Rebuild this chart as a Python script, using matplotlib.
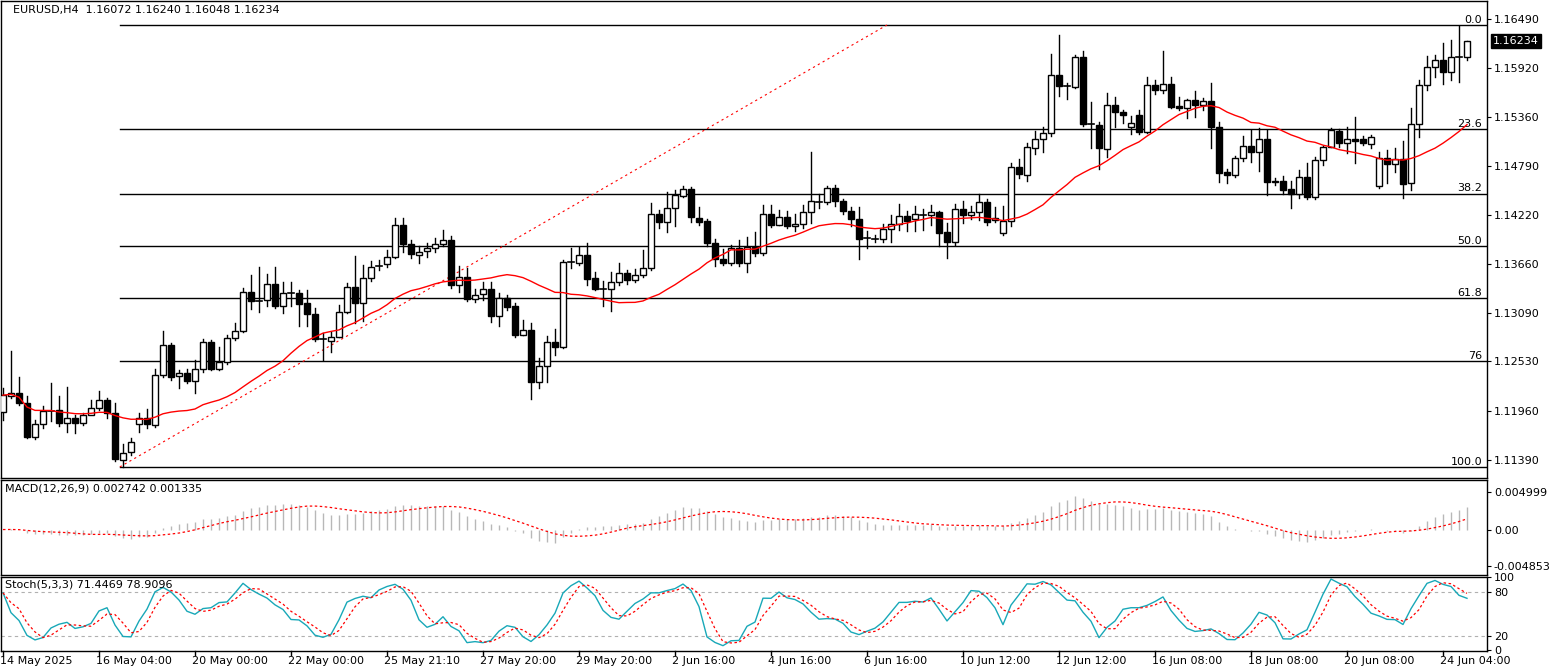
import numpy as np
import matplotlib
matplotlib.use("Agg")
import matplotlib.pyplot as plt

# OHLC in units of 0.0001
opens = [11195,11213,11216,11205,11166,11181,11196,11197,11182,11188,11182,11191,11199,11208,11193,11139,11148,11181,11188,11180,
11237,11272,11236,11240,11230,11244,11275,11244,11252,11280,11288,11333,11323,11324,11343,11317,11332,11332,11321,11308,
11279,11277,11281,11310,11339,11321,11349,11363,11366,11374,11411,11389,11376,11381,11384,11389,11393,11341,11351,11325,
11331,11337,11306,11326,11317,11284,11289,11229,11248,11275,11270,11368,11367,11376,11350,11337,11337,11345,11355,11347,
11353,11361,11423,11414,11430,11444,11452,11419,11415,11390,11371,11367,11384,11367,11385,11378,11423,11411,11420,11410,
11412,11426,11437,11437,11454,11439,11427,11418,11396,11395,11395,11406,11412,11421,11418,11422,11422,11426,11403,11391,
11429,11422,11426,11437,11417,11402,11415,11478,11469,11500,11510,11517,11584,11572,11570,11605,11528,11527,11499,11549,
11541,11524,11538,11518,11573,11567,11574,11548,11546,11555,11550,11554,11524,11472,11469,11488,11502,11495,11510,11460,
11462,11452,11447,11466,11443,11486,11501,11520,11506,11510,11510,11504,11456,11488,11481,11487,11459,11528,11573,11594,
11602,11588,11605,11605]
closes = [11214,11216,11205,11166,11181,11196,11196,11182,11188,11182,11191,11199,11208,11193,11140,11147,11160,11188,11181,11237,
11272,11235,11240,11230,11244,11275,11244,11252,11280,11288,11333,11323,11323,11343,11317,11332,11332,11320,11308,11279,
11279,11281,11310,11339,11321,11350,11362,11363,11374,11411,11389,11377,11380,11384,11389,11393,11341,11351,11325,11330,
11337,11306,11326,11316,11284,11289,11229,11248,11275,11270,11368,11368,11376,11348,11337,11337,11345,11355,11347,11353,
11361,11423,11414,11430,11445,11452,11420,11414,11390,11371,11367,11384,11367,11385,11378,11423,11411,11420,11410,11412,
11426,11439,11437,11454,11439,11427,11418,11395,11396,11395,11406,11412,11421,11415,11423,11422,11426,11402,11391,11429,
11422,11426,11437,11414,11419,11415,11478,11470,11501,11510,11517,11584,11572,11572,11605,11528,11528,11500,11550,11541,
11538,11529,11518,11573,11567,11574,11547,11546,11555,11550,11554,11524,11471,11469,11488,11502,11495,11510,11461,11462,
11451,11447,11466,11443,11486,11501,11521,11506,11510,11508,11506,11513,11488,11481,11487,11458,11528,11573,11594,11602,
11588,11605,11605,11623.4]
highs = [11222,11265,11235,11213,11185,11201,11228,11213,11223,11191,11193,11208,11219,11211,11205,11158,11164,11193,11198,11244,
11288,11274,11243,11244,11255,11279,11278,11270,11284,11298,11338,11353,11362,11354,11362,11345,11345,11336,11336,11315,
11286,11287,11318,11344,11375,11365,11369,11370,11382,11419,11419,11393,11387,11390,11396,11405,11398,11363,11361,11337,
11345,11345,11332,11330,11321,11301,11298,11257,11282,11290,11370,11384,11385,11390,11356,11346,11356,11367,11359,11360,
11382,11436,11428,11449,11451,11456,11455,11432,11418,11395,11383,11388,11393,11397,11403,11434,11434,11428,11427,11423,
11434,11495,11447,11456,11457,11441,11432,11432,11404,11399,11412,11422,11435,11427,11433,11429,11434,11427,11413,11435,
11439,11433,11447,11441,11432,11433,11482,11487,11506,11519,11524,11609,11631,11575,11607,11612,11553,11530,11563,11559,
11544,11537,11544,11582,11578,11612,11582,11559,11557,11566,11558,11575,11530,11476,11491,11514,11521,11523,11521,11465,
11468,11462,11474,11482,11489,11502,11523,11522,11524,11536,11514,11515,11495,11498,11500,11508,11546,11578,11606,11607,
11621,11625,11641,11624]
lows = [11185,11211,11203,11164,11163,11176,11184,11178,11171,11170,11180,11197,11197,11188,11138,11131,11145,11171,11176,11177,
11235,11231,11222,11228,11216,11241,11243,11243,11250,11278,11287,11314,11310,11317,11315,11309,11317,11294,11294,11277,
11255,11264,11281,11309,11298,11300,11346,11359,11362,11373,11379,11373,11367,11374,11380,11386,11338,11333,11323,11322,
11324,11299,11294,11312,11281,11283,11210,11222,11229,11260,11268,11361,11365,11341,11336,11317,11311,11341,11343,11345,
11351,11359,11407,11403,11410,11443,11414,11411,11386,11363,11365,11365,11363,11356,11375,11376,11408,11411,11407,11404,
11407,11413,11430,11435,11433,11424,11410,11371,11384,11391,11391,11391,11405,11404,11404,11405,11411,11386,11373,11388,
11413,11418,11417,11411,11414,11399,11410,11465,11462,11493,11495,11514,11560,11557,11569,11525,11500,11476,11489,11524,
11529,11516,11516,11517,11562,11563,11546,11544,11535,11536,11544,11500,11460,11459,11466,11485,11484,11473,11446,11457,
11447,11430,11442,11441,11441,11480,11501,11501,11494,11482,11503,11500,11454,11459,11472,11442,11451,11513,11567,11582,
11574,11578,11576,11602]

tick_bars = [0,12,24,36,48,60,72,84,96,108,120,132,144,156,168,180]
tick_labels = ["14 May 2025","16 May 04:00","20 May 00:00","22 May 00:00","25 May 21:10","27 May 20:00",
               "29 May 20:00","2 Jun 16:00","4 Jun 16:00","6 Jun 16:00","10 Jun 12:00","12 Jun 12:00",
               "16 Jun 08:00","18 Jun 08:00","20 Jun 08:00","24 Jun 04:00"]
price_ticks = [1.16490,1.15920,1.15360,1.14790,1.14220,1.13660,1.13090,1.12530,1.11960,1.11390]
fib_ratios = [0.0,0.236,0.382,0.5,0.618,0.76,1.0]
fib_labels = ["0.0","23.6","38.2","50.0","61.8","76","100.0"]
fib_high, fib_low = 1.16421, 1.11310
fib_low_bar, fib_high_bar = 14.6, 110.5

O = np.array(opens)/1e4; C = np.array(closes)/1e4; H = np.array(highs)/1e4; L = np.array(lows)/1e4
n = len(C); x = np.arange(n)

def ema(a, p):
    out = np.empty_like(a); k = 2/(p+1); out[0] = a[0]
    for i in range(1, len(a)): out[i] = a[i]*k + out[i-1]*(1-k)
    return out
def sma(a, p):
    out = np.full_like(a, np.nan)
    for i in range(len(a)): out[i] = a[max(0,i-p+1):i+1].mean()
    return out

ma = sma(C, 22)
macd = ema(C,12) - ema(C,26)
sig = sma(macd, 9)
hh = np.array([H[max(0,i-4):i+1].max() for i in range(n)])
ll = np.array([L[max(0,i-4):i+1].min() for i in range(n)])
num = C-ll; den = hh-ll
K = np.array([num[max(0,i-2):i+1].sum()/max(den[max(0,i-2):i+1].sum(),1e-9)*100 for i in range(n)])
D = sma(K, 3)

W, Hpx = 1552, 667
fig = plt.figure(figsize=(W/100, Hpx/100), dpi=100)
fig.patch.set_facecolor("white")
def ax_at(top, bottom):
    return fig.add_axes([1/W, 1-bottom/Hpx, (1487-1)/W, (bottom-top)/Hpx])
ax = ax_at(1, 478); am = ax_at(480, 575); asx = ax_at(577, 651)
fs = 8
xl = (-0.25, 185.5)
def yp(ypx):
    return 1.1671 - 1.1565e-4*ypx
for a in (ax, am, asx):
    a.set_xlim(*xl); a.set_xticks([]); a.yaxis.tick_right()
    a.tick_params(axis='y', length=3, labelsize=fs, pad=2)
    for s in a.spines.values(): s.set_color("black"); s.set_linewidth(1)

ax.set_ylim(yp(478), yp(1))
for i in range(n):
    o, c, h, l = O[i], C[i], H[i], L[i]
    ax.plot([i, i], [l, h], color="black", lw=1, zorder=2)
    bot, top = min(o, c), max(o, c)
    if top - bot < 0.00003:
        ax.plot([i-0.38, i+0.38], [c, c], color="black", lw=1.2, zorder=3)
    else:
        ax.add_patch(plt.Rectangle((i-0.38, bot), 0.76, top-bot, facecolor="white" if c >= o else "black",
                                   edgecolor="black", lw=1, zorder=3))
ax.plot(x, ma, color="red", lw=1, zorder=4)
for r, lab in zip(fib_ratios, fib_labels):
    lv = fib_high - r*(fib_high-fib_low)
    ax.plot([fib_low_bar, xl[1]], [lv, lv], color="black", lw=1, zorder=1)
    ax.text(184.9, lv+0.00004, lab, ha="right", va="bottom", fontsize=fs)
ax.plot([fib_low_bar, fib_high_bar], [fib_low, fib_high], color="red", lw=0.8, ls=(0,(2,3)), zorder=1)
ax.set_yticks(price_ticks); ax.set_yticklabels([f"{v:.5f}" for v in price_ticks])
ax.text(1.004, C[-1], f"{C[-1]:.5f}", transform=ax.get_yaxis_transform(), fontsize=fs, color="white",
        va="center", ha="left", bbox=dict(facecolor="black", edgecolor="black", pad=1.5))
ax.text(0.008, 0.992, "EURUSD,H4  1.16072 1.16240 1.16048 1.16234", transform=ax.transAxes, fontsize=fs, va="top")

am.set_ylim(-0.006051, 0.006597)
am.vlines(x, 0, macd, color="#b8b8b8", lw=1)
am.plot(x, sig, color="red", lw=0.9, ls=(0,(2,2)))
am.set_yticks([0.004999, 0.0, -0.004853]); am.set_yticklabels(["0.004999", "0.00", "-0.004853"])
am.text(0.003, 0.96, "MACD(12,26,9) 0.002742 0.001335", transform=am.transAxes, fontsize=fs, va="top")

asx.set_ylim(-1, 100)
for lv in (80, 20):
    asx.axhline(lv, color="#b0b0b0", lw=0.8, ls=(0,(3,3)))
asx.plot(x, K, color="#18a8b8", lw=1)
asx.plot(x, D, color="red", lw=0.9, ls=(0,(2,2)))
asx.set_yticks([100, 80, 20, 0]); asx.set_yticklabels(["100", "80", "20", "0"])
asx.text(0.003, 0.97, "Stoch(5,3,3) 71.4469 78.9096", transform=asx.transAxes, fontsize=fs, va="top")
for b, lab in zip(tick_bars, tick_labels):
    xf = (b - xl[0])/(xl[1]-xl[0])
    asx.plot([b, b], [-1, -6], color="black", lw=1, clip_on=False)
    fig.text((xf*1486 - 2)/W, 1-661/Hpx, lab, fontsize=fs, ha="left", va="center")

fig.savefig("out.png", dpi=100, facecolor="white")
